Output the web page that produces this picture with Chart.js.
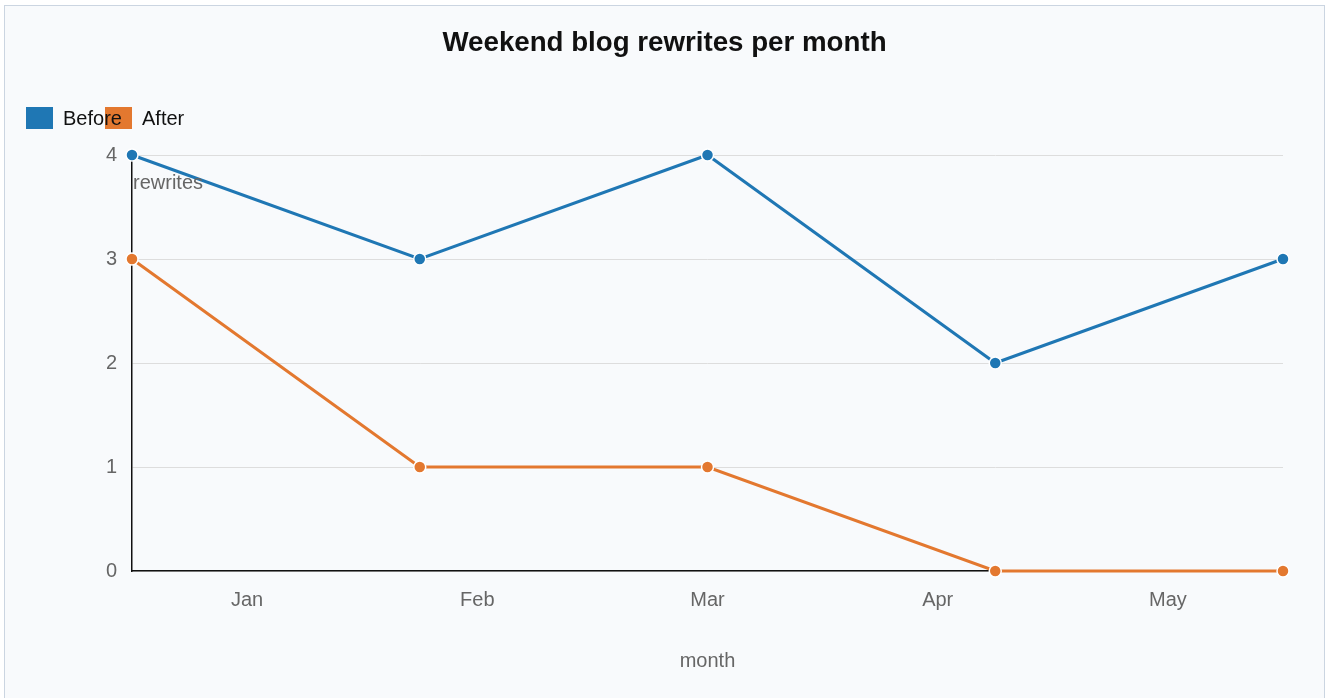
<!DOCTYPE html>
<html>
<head>
<meta charset="utf-8">
<script src="https://cdn.jsdelivr.net/npm/chart.js@4.4.1/dist/chart.umd.min.js"></script>
<style>
  html, body { margin: 0; padding: 0; background: #ffffff; overflow: hidden; }
  #frame { position: absolute; left: 4px; top: 5px; width: 1319px; height: 720px;
           border: 1px solid #cbd5e1; background: #f8fafc; }
  #wrap { position: absolute; left: 0; top: 0; width: 1319px; height: 692px; }
</style>
</head>
<body>
<div id="frame"><div id="wrap"><canvas id="c"></canvas></div></div>
<script>
const months = ['Jan', 'Feb', 'Mar', 'Apr', 'May'];
const beforeValues = [4, 3, 4, 2, 3];
const afterValues = [3, 1, 1, 0, 0];
const yTicks = [0, 1, 2, 3, 4];
const chartTitle = 'Weekend blog rewrites per month';
const xTitle = 'month';
const yTitle = 'rewrites';

const FONT = "'Liberation Sans', Arial, Helvetica, sans-serif";
Chart.defaults.font.family = FONT;

const decor = {
  id: 'decor',
  afterDraw(chart) {
    const ctx = chart.ctx;
    const area = chart.chartArea;
    ctx.save();
    // title
    ctx.fillStyle = '#111';
    ctx.font = 'bold 27.7px ' + FONT;
    ctx.textAlign = 'center';
    ctx.textBaseline = 'middle';
    ctx.fillText(chartTitle, chart.width / 2, 37);
    // legend (items at fixed spacing; swatches first, labels on top)
    ctx.font = '20px ' + FONT;
    ctx.textAlign = 'left';
    chart.data.datasets.forEach((ds, i) => {
      const x = 21 + i * 79;
      ctx.fillStyle = ds.borderColor;
      ctx.fillRect(x, 101, 27, 22);
    });
    chart.data.datasets.forEach((ds, i) => {
      const x = 21 + i * 79;
      ctx.fillStyle = '#111';
      ctx.fillText(ds.label, x + 37, 113);
    });
    // y axis title
    ctx.fillStyle = '#666';
    ctx.font = '20px ' + FONT;
    ctx.textAlign = 'left';
    ctx.textBaseline = 'middle';
    ctx.fillText(yTitle, area.left + 1, area.top + 28);
    ctx.restore();
  }
};

new Chart(document.getElementById('c'), {
  type: 'line',
  data: {
    labels: months,
    datasets: [
      { label: 'Before', data: beforeValues, xAxisID: 'x2', borderColor: '#1f77b4', backgroundColor: '#1f77b4',
        borderWidth: 3, pointRadius: 6, pointBorderWidth: 1.5, pointBorderColor: '#ffffff',
        pointBackgroundColor: '#1f77b4', tension: 0, clip: false },
      { label: 'After', data: afterValues, xAxisID: 'x2', borderColor: '#e3782f', backgroundColor: '#e3782f',
        borderWidth: 3, pointRadius: 6, pointBorderWidth: 1.5, pointBorderColor: '#ffffff',
        pointBackgroundColor: '#e3782f', tension: 0, clip: false }
    ]
  },
  options: {
    responsive: true,
    maintainAspectRatio: false,
    animation: false,
    layout: { padding: { top: 149, right: 41, left: 0, bottom: 0 } },
    plugins: { legend: { display: false }, title: { display: false }, tooltip: { enabled: false } },
    scales: {
      x: {
        type: 'category', labels: months, offset: true, position: 'bottom',
        grid: { display: false },
        border: { display: true, color: '#111', width: 1.5 },
        ticks: { color: '#666', font: { size: 20 }, padding: 9, maxRotation: 0 },
        title: { display: true, text: xTitle, color: '#666', font: { size: 20 }, padding: { bottom: 25, top: 0 } },
        afterFit(s) { s.height = 127; }
      },
      x2: { type: 'category', labels: months, offset: false, display: false },
      y: {
        min: yTicks[0], max: yTicks[yTicks.length - 1],
        afterBuildTicks(s) { s.ticks = yTicks.map(v => ({ value: v })); },
        grid: { color: '#dddddd', lineWidth: 1, drawTicks: false },
        border: { display: true, color: '#111', width: 1.5 },
        ticks: { color: '#666', font: { size: 20 }, padding: 15 },
        afterFit(s) { s.width = 127; }
      }
    }
  },
  plugins: [decor]
});
</script>
</body>
</html>
